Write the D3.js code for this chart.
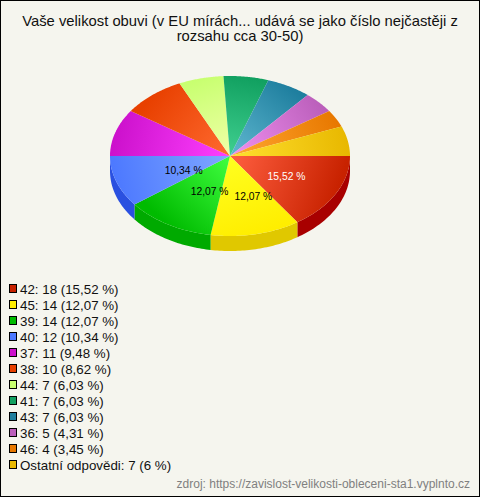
<!DOCTYPE html>
<html>
<head>
<meta charset="utf-8">
<script src="https://cdn.jsdelivr.net/npm/d3@7/dist/d3.min.js"></script>
<style>
html,body{margin:0;padding:0;background:#f5f5ee;overflow:hidden}
svg{display:block}
text{font-family:"Liberation Sans",Arial,sans-serif}
</style>
</head>
<body>
<script>
const titleLines = ["Vaše velikost obuvi (v EU mírách... udává se jako číslo nejčastěji z", "rozsahu cca 30-50)"];
const categories = ["42","45","39","40","37","38","44","41","43","36","46","Ostatní odpovědi"];
const values = [18,14,14,12,11,10,7,7,7,5,4,7];
const percentLabels = ["15,52 %","12,07 %","12,07 %","10,34 %","9,48 %","8,62 %","6,03 %","6,03 %","6,03 %","4,31 %","3,45 %","6 %"];
const sliceLabels = ["15,52 %","12,07 %","12,07 %","10,34 %","","","","","","","",""];
const baseColors = ["#c82200","#ffee00","#00bb00","#4d79ff","#cc11cc","#e84000","#c8ff70","#11a060","#1f7f9f","#bb5fbb","#e87800","#e8b800"];
const lightColors = ["#ff5f40","#ffff20","#40ff40","#80a8ff","#ff40ff","#ff6a30","#f0ffa8","#40d090","#60b8d0","#f090f0","#ffa830","#ffe030"];
const wallColors = ["#a80000","#e0c800","#00aa00","#2a50e0"];
const sourceText = "zdroj: https://zavislost-velikosti-obleceni-sta1.vyplnto.cz";

const W = 480, H = 497;
const cx = 230, cy = 156, rx = 120, ry = 80, depth = 15;

const svg = d3.select("body").append("svg").attr("width", W).attr("height", H);
svg.append("rect").attr("x",0.5).attr("y",0.5).attr("width",W-1).attr("height",H-1)
  .attr("fill","#f5f5ee").attr("stroke","#000");

svg.append("g").selectAll("text").data(titleLines).join("text")
  .attr("x", 240).attr("y",(d,i)=>26+i*15).attr("text-anchor","middle")
  .attr("font-size",14.8).attr("fill","#111").text(d=>d);

const pie = d3.pie().sort(null).value(d=>d).startAngle(Math.PI/2).endAngle(Math.PI/2+2*Math.PI);
const arcs = pie(values);
// d3 angles: 0 = north, clockwise
const px = a => rx*Math.sin(a);
const py = a => -ry*Math.cos(a);
const sweep = d => d3.range(0,41).map(k=>d.startAngle+(d.endAngle-d.startAngle)*k/40);

const defs = svg.append("defs");
arcs.forEach((d,i)=>{
  const mid=(d.startAngle+d.endAngle)/2;
  const g=defs.append("linearGradient").attr("id","g"+i).attr("gradientUnits","userSpaceOnUse")
    .attr("x1",0).attr("y1",0).attr("x2",px(mid)).attr("y2",py(mid));
  g.append("stop").attr("offset",0).attr("stop-color",lightColors[i]);
  g.append("stop").attr("offset",1).attr("stop-color",baseColors[i]);
});

const root = svg.append("g").attr("transform",`translate(${cx},${cy})`);
const line = d3.line();

root.selectAll("path.wall").data(arcs.filter(d=>d.startAngle < 3*Math.PI/2 - 1e-6)).join("path")
  .attr("class","wall")
  .attr("fill",d=>wallColors[d.index])
  .attr("d",d=>{
    const steps=sweep(d);
    const top=steps.map(a=>[px(a),py(a)]);
    const bottom=steps.slice().reverse().map(a=>[px(a),py(a)+depth]);
    return line(top.concat(bottom))+"Z";
  });

root.selectAll("path.slice").data(arcs).join("path")
  .attr("class","slice")
  .attr("fill",d=>`url(#g${d.index})`)
  .attr("d",d=>line([[0,0]].concat(sweep(d).map(a=>[px(a),py(a)])))+"Z");

const labelR = 0.5;
root.selectAll("text.lab").data(arcs.filter(d=>sliceLabels[d.index])).join("text")
  .attr("class","lab")
  .attr("x",d=>labelR*px((d.startAngle+d.endAngle)/2)+(d.index===0?3.5:10.5))
  .attr("y",d=>labelR*py((d.startAngle+d.endAngle)/2)+1+4)
  .attr("text-anchor","middle").attr("font-size",10.3)
  .attr("fill",d=>d.index===0?"#fff":"#000")
  .text(d=>sliceLabels[d.index]);

const legend = svg.append("g").selectAll("g").data(categories).join("g")
  .attr("transform",(d,i)=>`translate(0,${289+i*16})`);
legend.append("rect").attr("x",9.5).attr("y",-4.5).attr("width",7).attr("height",8)
  .attr("fill",(d,i)=>baseColors[i]).attr("stroke","#000");
legend.append("text").attr("x",20).attr("y",4.5).attr("font-size",13.33).attr("fill","#111")
  .text((d,i)=>`${d}: ${values[i]} (${percentLabels[i]})`);

svg.append("text").attr("x",470).attr("y",488).attr("text-anchor","end")
  .attr("font-size",12).attr("fill","#808080").text(sourceText);
</script>
</body>
</html>
